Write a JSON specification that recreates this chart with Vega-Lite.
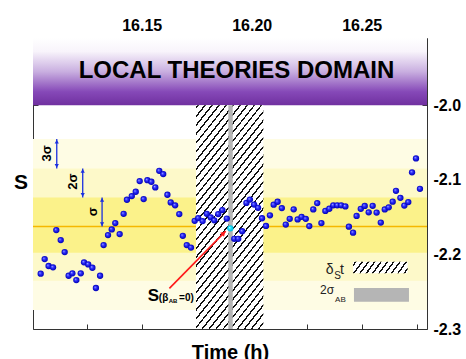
{
  "$schema": "https://vega.github.io/schema/vega-lite/v6.json",
  "width": 394,
  "height": 291,
  "autosize": {"type": "none"},
  "padding": {"left": 33, "top": 38, "right": 39, "bottom": 30},
  "background": "white",
  "config": {
    "font": "Liberation Sans",
    "view": {"stroke": "#333", "strokeWidth": 1},
    "axis": {"grid": false, "domain": false, "tickColor": "#333", "labelColor": "#000", "titleColor": "#000", "labelFlush": false, "labelOverlap": false}
  },
  "resolve": {"axis": {"x": "independent", "y": "independent"}},
  "layer": [
    {
      "data": {"values": [
        {"band": "3s", "lo": -2.2746, "hi": -2.0455},
        {"band": "2s", "lo": -2.2353, "hi": -2.0848},
        {"band": "1s", "lo": -2.1978, "hi": -2.1236}
      ]},
      "mark": {"type": "rect"},
      "encoding": {
        "y": {"field": "lo", "type": "quantitative", "scale": {"domain": [-2.3, -1.91], "nice": false, "zero": false}, "axis": null},
        "y2": {"field": "hi"},
        "color": {"field": "band", "type": "nominal", "scale": {"domain": ["3s", "2s", "1s"], "range": ["#fefce4", "#fdf9c9", "#fbf28a"]}, "legend": null}
      }
    },
    {
      "data": {"values": [{"lo": -2.0, "hi": -1.91}]},
      "mark": {"type": "rect", "fill": {"gradient": "linear", "x1": 0, "y1": 0, "x2": 0, "y2": 1, "stops": [
        {"offset": 0, "color": "#ffffff"},
        {"offset": 0.2, "color": "#f8f4fb"},
        {"offset": 0.5, "color": "#c9afe0"},
        {"offset": 0.8, "color": "#8649b8"},
        {"offset": 1, "color": "#7030a0"}
      ]}},
      "encoding": {
        "y": {"field": "lo", "type": "quantitative", "scale": {"domain": [-2.3, -1.91], "nice": false, "zero": false}, "axis": null},
        "y2": {"field": "hi"}
      }
    },
    {
      "data": {"values": [{"mean": -2.1627}]},
      "mark": {"type": "rule", "color": "#f5b800", "strokeWidth": 1.5},
      "encoding": {
        "y": {"field": "mean", "type": "quantitative", "scale": {"domain": [-2.3, -1.91], "nice": false, "zero": false}, "axis": null}
      }
    },
    {
      "data": {"values": [{"t0": 16.1747, "t1": 16.2053, "lo": -2.3, "hi": -2.0}]},
      "mark": {"type": "rect", "fill": {"gradient": "linear", "x1": 0, "y1": 0, "x2": 0.453, "y2": 1.2055, "stops": [
        {"offset": 0, "color": "#fff"},
        {"offset": 0.0050, "color": "#fff"}, {"offset": 0.0050, "color": "#111"}, {"offset": 0.0120, "color": "#111"}, {"offset": 0.0120, "color": "#fff"},
        {"offset": 0.0336, "color": "#fff"}, {"offset": 0.0336, "color": "#111"}, {"offset": 0.0406, "color": "#111"}, {"offset": 0.0406, "color": "#fff"},
        {"offset": 0.0621, "color": "#fff"}, {"offset": 0.0621, "color": "#111"}, {"offset": 0.0691, "color": "#111"}, {"offset": 0.0691, "color": "#fff"},
        {"offset": 0.0907, "color": "#fff"}, {"offset": 0.0907, "color": "#111"}, {"offset": 0.0977, "color": "#111"}, {"offset": 0.0977, "color": "#fff"},
        {"offset": 0.1193, "color": "#fff"}, {"offset": 0.1193, "color": "#111"}, {"offset": 0.1263, "color": "#111"}, {"offset": 0.1263, "color": "#fff"},
        {"offset": 0.1479, "color": "#fff"}, {"offset": 0.1479, "color": "#111"}, {"offset": 0.1549, "color": "#111"}, {"offset": 0.1549, "color": "#fff"},
        {"offset": 0.1764, "color": "#fff"}, {"offset": 0.1764, "color": "#111"}, {"offset": 0.1834, "color": "#111"}, {"offset": 0.1834, "color": "#fff"},
        {"offset": 0.2050, "color": "#fff"}, {"offset": 0.2050, "color": "#111"}, {"offset": 0.2120, "color": "#111"}, {"offset": 0.2120, "color": "#fff"},
        {"offset": 0.2336, "color": "#fff"}, {"offset": 0.2336, "color": "#111"}, {"offset": 0.2406, "color": "#111"}, {"offset": 0.2406, "color": "#fff"},
        {"offset": 0.2621, "color": "#fff"}, {"offset": 0.2621, "color": "#111"}, {"offset": 0.2691, "color": "#111"}, {"offset": 0.2691, "color": "#fff"},
        {"offset": 0.2907, "color": "#fff"}, {"offset": 0.2907, "color": "#111"}, {"offset": 0.2977, "color": "#111"}, {"offset": 0.2977, "color": "#fff"},
        {"offset": 0.3193, "color": "#fff"}, {"offset": 0.3193, "color": "#111"}, {"offset": 0.3263, "color": "#111"}, {"offset": 0.3263, "color": "#fff"},
        {"offset": 0.3479, "color": "#fff"}, {"offset": 0.3479, "color": "#111"}, {"offset": 0.3549, "color": "#111"}, {"offset": 0.3549, "color": "#fff"},
        {"offset": 0.3764, "color": "#fff"}, {"offset": 0.3764, "color": "#111"}, {"offset": 0.3834, "color": "#111"}, {"offset": 0.3834, "color": "#fff"},
        {"offset": 0.4050, "color": "#fff"}, {"offset": 0.4050, "color": "#111"}, {"offset": 0.4120, "color": "#111"}, {"offset": 0.4120, "color": "#fff"},
        {"offset": 0.4336, "color": "#fff"}, {"offset": 0.4336, "color": "#111"}, {"offset": 0.4406, "color": "#111"}, {"offset": 0.4406, "color": "#fff"},
        {"offset": 0.4621, "color": "#fff"}, {"offset": 0.4621, "color": "#111"}, {"offset": 0.4691, "color": "#111"}, {"offset": 0.4691, "color": "#fff"},
        {"offset": 0.4907, "color": "#fff"}, {"offset": 0.4907, "color": "#111"}, {"offset": 0.4977, "color": "#111"}, {"offset": 0.4977, "color": "#fff"},
        {"offset": 0.5193, "color": "#fff"}, {"offset": 0.5193, "color": "#111"}, {"offset": 0.5263, "color": "#111"}, {"offset": 0.5263, "color": "#fff"},
        {"offset": 0.5479, "color": "#fff"}, {"offset": 0.5479, "color": "#111"}, {"offset": 0.5549, "color": "#111"}, {"offset": 0.5549, "color": "#fff"},
        {"offset": 0.5764, "color": "#fff"}, {"offset": 0.5764, "color": "#111"}, {"offset": 0.5834, "color": "#111"}, {"offset": 0.5834, "color": "#fff"},
        {"offset": 0.6050, "color": "#fff"}, {"offset": 0.6050, "color": "#111"}, {"offset": 0.6120, "color": "#111"}, {"offset": 0.6120, "color": "#fff"},
        {"offset": 0.6336, "color": "#fff"}, {"offset": 0.6336, "color": "#111"}, {"offset": 0.6406, "color": "#111"}, {"offset": 0.6406, "color": "#fff"},
        {"offset": 0.6621, "color": "#fff"}, {"offset": 0.6621, "color": "#111"}, {"offset": 0.6691, "color": "#111"}, {"offset": 0.6691, "color": "#fff"},
        {"offset": 0.6907, "color": "#fff"}, {"offset": 0.6907, "color": "#111"}, {"offset": 0.6977, "color": "#111"}, {"offset": 0.6977, "color": "#fff"},
        {"offset": 0.7193, "color": "#fff"}, {"offset": 0.7193, "color": "#111"}, {"offset": 0.7263, "color": "#111"}, {"offset": 0.7263, "color": "#fff"},
        {"offset": 0.7479, "color": "#fff"}, {"offset": 0.7479, "color": "#111"}, {"offset": 0.7549, "color": "#111"}, {"offset": 0.7549, "color": "#fff"},
        {"offset": 0.7764, "color": "#fff"}, {"offset": 0.7764, "color": "#111"}, {"offset": 0.7834, "color": "#111"}, {"offset": 0.7834, "color": "#fff"},
        {"offset": 0.8050, "color": "#fff"}, {"offset": 0.8050, "color": "#111"}, {"offset": 0.8120, "color": "#111"}, {"offset": 0.8120, "color": "#fff"},
        {"offset": 0.8336, "color": "#fff"}, {"offset": 0.8336, "color": "#111"}, {"offset": 0.8406, "color": "#111"}, {"offset": 0.8406, "color": "#fff"},
        {"offset": 0.8621, "color": "#fff"}, {"offset": 0.8621, "color": "#111"}, {"offset": 0.8691, "color": "#111"}, {"offset": 0.8691, "color": "#fff"},
        {"offset": 0.8907, "color": "#fff"}, {"offset": 0.8907, "color": "#111"}, {"offset": 0.8977, "color": "#111"}, {"offset": 0.8977, "color": "#fff"},
        {"offset": 0.9193, "color": "#fff"}, {"offset": 0.9193, "color": "#111"}, {"offset": 0.9263, "color": "#111"}, {"offset": 0.9263, "color": "#fff"},
        {"offset": 0.9479, "color": "#fff"}, {"offset": 0.9479, "color": "#111"}, {"offset": 0.9549, "color": "#111"}, {"offset": 0.9549, "color": "#fff"},
        {"offset": 0.9764, "color": "#fff"}, {"offset": 0.9764, "color": "#111"}, {"offset": 0.9834, "color": "#111"}, {"offset": 0.9834, "color": "#fff"},
        {"offset": 1, "color": "#fff"}
      ]}},
      "encoding": {
        "x": {"field": "t0", "type": "quantitative", "scale": {"domain": [16.1006, 16.2797], "nice": false, "zero": false},
              "axis": {"orient": "bottom", "values": [16.125, 16.15, 16.175, 16.2, 16.225, 16.25, 16.275], "labels": false, "tickSize": -5, "title": "Time (h)", "titleFontSize": 20, "titleFontWeight": "bold", "titlePadding": 13}},
        "x2": {"field": "t1"},
        "y": {"field": "lo", "type": "quantitative", "scale": {"domain": [-2.3, -1.91], "nice": false, "zero": false},
              "axis": {"orient": "left", "values": [-2.3, -2.25, -2.2, -2.15, -2.1, -2.05, -2.0, -1.95], "labels": false, "tickSize": -5, "title": "S", "titleAngle": 0, "titleFontSize": 21, "titleFontWeight": "bold", "titleAlign": "center", "titleBaseline": "middle", "titleX": -12.5, "titleY": 144}},
        "y2": {"field": "hi"}
      }
    },
    {
      "data": {"values": [{"t0": 16.1894, "t1": 16.1914, "lo": -2.3, "hi": -2.0}]},
      "mark": {"type": "rect", "fill": "#b5b5b5"},
      "encoding": {
        "x": {"field": "t0", "type": "quantitative", "scale": {"domain": [16.1006, 16.2797], "nice": false, "zero": false}, "axis": null},
        "x2": {"field": "t1"},
        "y": {"field": "lo", "type": "quantitative", "scale": {"domain": [-2.3, -1.91], "nice": false, "zero": false}, "axis": null},
        "y2": {"field": "hi"}
      }
    },
    {
      "data": {"values": [
        {"t": 16.1041, "s": -2.2259}, {"t": 16.1059, "s": -2.2063}, {"t": 16.1077, "s": -2.2156}, {"t": 16.1097, "s": -2.2174},
        {"t": 16.1112, "s": -2.1674}, {"t": 16.1132, "s": -2.1808}, {"t": 16.1150, "s": -2.1969}, {"t": 16.1168, "s": -2.2286},
        {"t": 16.1185, "s": -2.2254}, {"t": 16.1203, "s": -2.2344}, {"t": 16.1223, "s": -2.2254}, {"t": 16.1238, "s": -2.2107},
        {"t": 16.1257, "s": -2.2134}, {"t": 16.1276, "s": -2.2179}, {"t": 16.1292, "s": -2.2451}, {"t": 16.1311, "s": -2.2286},
        {"t": 16.1327, "s": -2.1875}, {"t": 16.1347, "s": -2.1741}, {"t": 16.1364, "s": -2.1665}, {"t": 16.1380, "s": -2.1580},
        {"t": 16.1400, "s": -2.1728}, {"t": 16.1418, "s": -2.1456}, {"t": 16.1433, "s": -2.1268}, {"t": 16.1455, "s": -2.1219},
        {"t": 16.1473, "s": -2.1161}, {"t": 16.1491, "s": -2.1018}, {"t": 16.1509, "s": -2.1259}, {"t": 16.1526, "s": -2.1005},
        {"t": 16.1544, "s": -2.1027}, {"t": 16.1562, "s": -2.1102}, {"t": 16.1580, "s": -2.0880}, {"t": 16.1598, "s": -2.0924},
        {"t": 16.1617, "s": -2.1201}, {"t": 16.1632, "s": -2.1303}, {"t": 16.1652, "s": -2.1343}, {"t": 16.1671, "s": -2.1460},
        {"t": 16.1687, "s": -2.1751}, {"t": 16.1705, "s": -2.1875}, {"t": 16.1724, "s": -2.1909}, {"t": 16.1741, "s": -2.1550},
        {"t": 16.1757, "s": -2.1513}, {"t": 16.1777, "s": -2.1554}, {"t": 16.1796, "s": -2.1456}, {"t": 16.1814, "s": -2.1504},
        {"t": 16.1830, "s": -2.1544}, {"t": 16.1848, "s": -2.1460}, {"t": 16.1867, "s": -2.1406}, {"t": 16.1887, "s": -2.1520},
        {"t": 16.1921, "s": -2.1791}, {"t": 16.1939, "s": -2.1791}, {"t": 16.1957, "s": -2.1690}, {"t": 16.1976, "s": -2.1310},
        {"t": 16.1992, "s": -2.1266}, {"t": 16.2011, "s": -2.1333}, {"t": 16.2029, "s": -2.1376}, {"t": 16.2047, "s": -2.1516},
        {"t": 16.2065, "s": -2.1619}, {"t": 16.2083, "s": -2.1477}, {"t": 16.2100, "s": -2.1334}, {"t": 16.2118, "s": -2.1295},
        {"t": 16.2137, "s": -2.1380}, {"t": 16.2155, "s": -2.1600}, {"t": 16.2173, "s": -2.1523}, {"t": 16.2191, "s": -2.1396},
        {"t": 16.2209, "s": -2.1531}, {"t": 16.2227, "s": -2.1497}, {"t": 16.2246, "s": -2.1524}, {"t": 16.2262, "s": -2.1621},
        {"t": 16.2280, "s": -2.1397}, {"t": 16.2298, "s": -2.1313}, {"t": 16.2317, "s": -2.1580}, {"t": 16.2335, "s": -2.1417},
        {"t": 16.2353, "s": -2.1388}, {"t": 16.2371, "s": -2.1342}, {"t": 16.2389, "s": -2.1342}, {"t": 16.2407, "s": -2.1342},
        {"t": 16.2426, "s": -2.1357}, {"t": 16.2442, "s": -2.1629}, {"t": 16.2461, "s": -2.1709}, {"t": 16.2477, "s": -2.1484},
        {"t": 16.2496, "s": -2.1389}, {"t": 16.2514, "s": -2.1350}, {"t": 16.2532, "s": -2.1436}, {"t": 16.2550, "s": -2.1349},
        {"t": 16.2568, "s": -2.1440}, {"t": 16.2587, "s": -2.1574}, {"t": 16.2605, "s": -2.1397}, {"t": 16.2623, "s": -2.1369},
        {"t": 16.2641, "s": -2.1293}, {"t": 16.2656, "s": -2.1148}, {"t": 16.2676, "s": -2.1242}, {"t": 16.2694, "s": -2.1346},
        {"t": 16.2712, "s": -2.1299}, {"t": 16.2729, "s": -2.0900}, {"t": 16.2747, "s": -2.0714}, {"t": 16.2765, "s": -2.1121}
      ]},
      "mark": {"type": "point", "filled": true, "opacity": 1, "size": 40, "strokeWidth": 0,
        "fill": {"gradient": "radial", "x1": 0.35, "y1": 0.35, "r1": 0, "x2": 0.5, "y2": 0.5, "r2": 0.5, "stops": [
          {"offset": 0, "color": "#a9b0ff"}, {"offset": 0.4, "color": "#2f2fff"}, {"offset": 1, "color": "#0000b4"}
        ]}},
      "encoding": {
        "x": {"field": "t", "type": "quantitative", "scale": {"domain": [16.1006, 16.2797], "nice": false, "zero": false},
              "axis": {"orient": "top", "values": [16.125, 16.15, 16.175, 16.2, 16.225, 16.25, 16.275], "tickSize": -5, "title": null,
                       "labelExpr": "(round(datum.value * 1000) % 50 == 0) ? format(datum.value, '.2f') : ''",
                       "labelFontSize": 16, "labelFontWeight": "bold", "labelPadding": 9.5}},
        "y": {"field": "s", "type": "quantitative", "scale": {"domain": [-2.3, -1.91], "nice": false, "zero": false},
              "axis": {"orient": "right", "values": [-2.3, -2.25, -2.2, -2.15, -2.1, -2.05, -2.0, -1.95], "tickSize": -5, "title": null,
                       "labelExpr": "(round(datum.value * 100) % 10 == 0) ? ('-' + format(abs(datum.value), '.1f')) : ''",
                       "labelFontSize": 16, "labelFontWeight": "bold", "labelPadding": 11}}
      }
    },
    {
      "data": {"values": [{"t": 16.1903, "s": -2.1651}]},
      "mark": {"type": "point", "filled": true, "opacity": 1, "size": 40, "strokeWidth": 0,
        "fill": {"gradient": "radial", "x1": 0.35, "y1": 0.35, "r1": 0, "x2": 0.5, "y2": 0.5, "r2": 0.5, "stops": [
          {"offset": 0, "color": "#b8ffff"}, {"offset": 0.4, "color": "#22e6ff"}, {"offset": 1, "color": "#00b8d8"}
        ]}},
      "encoding": {
        "x": {"field": "t", "type": "quantitative", "scale": {"domain": [16.1006, 16.2797], "nice": false, "zero": false}, "axis": null},
        "y": {"field": "s", "type": "quantitative", "scale": {"domain": [-2.3, -1.91], "nice": false, "zero": false}, "axis": null}
      }
    },
    {
      "data": {"values": [
        {"t": 16.1114, "top": -2.0455, "bot": -2.0848},
        {"t": 16.1232, "top": -2.0848, "bot": -2.1236},
        {"t": 16.1320, "top": -2.1236, "bot": -2.1627}
      ]},
      "layer": [
        {"mark": {"type": "rule", "color": "#1a2fe0", "strokeWidth": 1.3},
         "encoding": {
           "x": {"field": "t", "type": "quantitative", "scale": {"domain": [16.1006, 16.2797], "nice": false, "zero": false}, "axis": null},
           "y": {"field": "top", "type": "quantitative", "scale": {"domain": [-2.3, -1.91], "nice": false, "zero": false}, "axis": null},
           "y2": {"field": "bot"}}},
        {"mark": {"type": "point", "shape": "triangle-up", "filled": true, "opacity": 1, "size": 18, "color": "#1a2fe0", "yOffset": 2.5},
         "encoding": {
           "x": {"field": "t", "type": "quantitative", "scale": {"domain": [16.1006, 16.2797], "nice": false, "zero": false}, "axis": null},
           "y": {"field": "top", "type": "quantitative", "scale": {"domain": [-2.3, -1.91], "nice": false, "zero": false}, "axis": null}}},
        {"mark": {"type": "point", "shape": "triangle-down", "filled": true, "opacity": 1, "size": 18, "color": "#1a2fe0", "yOffset": -2.5},
         "encoding": {
           "x": {"field": "t", "type": "quantitative", "scale": {"domain": [16.1006, 16.2797], "nice": false, "zero": false}, "axis": null},
           "y": {"field": "bot", "type": "quantitative", "scale": {"domain": [-2.3, -1.91], "nice": false, "zero": false}, "axis": null}}}
      ]
    },
    {
      "data": {"values": [
        {"label": "3σ", "t": 16.1071, "s": -2.0647},
        {"label": "2σ", "t": 16.1189, "s": -2.1027},
        {"label": "σ", "t": 16.1280, "s": -2.1429}
      ]},
      "mark": {"type": "text", "angle": 270, "align": "center", "baseline": "middle", "fontSize": 13, "fontWeight": "bold", "color": "#000"},
      "encoding": {
        "x": {"field": "t", "type": "quantitative", "scale": {"domain": [16.1006, 16.2797], "nice": false, "zero": false}, "axis": null},
        "y": {"field": "s", "type": "quantitative", "scale": {"domain": [-2.3, -1.91], "nice": false, "zero": false}, "axis": null},
        "text": {"field": "label"}
      }
    },
    {
      "data": {"values": [{"t": 16.1626, "s": -2.2455, "t2": 16.1882, "s2": -2.1688}]},
      "layer": [
        {"mark": {"type": "rule", "color": "#ff1a1a", "strokeWidth": 1.6},
         "encoding": {
           "x": {"field": "t", "type": "quantitative", "scale": {"domain": [16.1006, 16.2797], "nice": false, "zero": false}, "axis": null},
           "y": {"field": "s", "type": "quantitative", "scale": {"domain": [-2.3, -1.91], "nice": false, "zero": false}, "axis": null},
           "x2": {"field": "t2"},
           "y2": {"field": "s2"}}},
        {"mark": {"type": "point", "shape": "triangle-up", "angle": 45, "filled": true, "opacity": 1, "size": 30, "color": "#ff1a1a", "xOffset": -2, "yOffset": 2},
         "encoding": {
           "x": {"field": "t2", "type": "quantitative", "scale": {"domain": [16.1006, 16.2797], "nice": false, "zero": false}, "axis": null},
           "y": {"field": "s2", "type": "quantitative", "scale": {"domain": [-2.3, -1.91], "nice": false, "zero": false}, "axis": null}}}
      ]
    },
    {
      "data": {"values": [{"t0": 16.2461, "t1": 16.2709, "lo": -2.2254, "hi": -2.2099}]},
      "mark": {"type": "rect", "fill": {"gradient": "linear", "x1": 0, "y1": 0, "x2": 1.129, "y2": 0.176, "stops": [
        {"offset": 0, "color": "#fff"},
        {"offset": 0.03, "color": "#fff"}, {"offset": 0.03, "color": "#111"}, {"offset": 0.058, "color": "#111"}, {"offset": 0.058, "color": "#fff"},
        {"offset": 0.13, "color": "#fff"}, {"offset": 0.13, "color": "#111"}, {"offset": 0.158, "color": "#111"}, {"offset": 0.158, "color": "#fff"},
        {"offset": 0.23, "color": "#fff"}, {"offset": 0.23, "color": "#111"}, {"offset": 0.258, "color": "#111"}, {"offset": 0.258, "color": "#fff"},
        {"offset": 0.33, "color": "#fff"}, {"offset": 0.33, "color": "#111"}, {"offset": 0.358, "color": "#111"}, {"offset": 0.358, "color": "#fff"},
        {"offset": 0.43, "color": "#fff"}, {"offset": 0.43, "color": "#111"}, {"offset": 0.458, "color": "#111"}, {"offset": 0.458, "color": "#fff"},
        {"offset": 0.53, "color": "#fff"}, {"offset": 0.53, "color": "#111"}, {"offset": 0.558, "color": "#111"}, {"offset": 0.558, "color": "#fff"},
        {"offset": 0.63, "color": "#fff"}, {"offset": 0.63, "color": "#111"}, {"offset": 0.658, "color": "#111"}, {"offset": 0.658, "color": "#fff"},
        {"offset": 0.73, "color": "#fff"}, {"offset": 0.73, "color": "#111"}, {"offset": 0.758, "color": "#111"}, {"offset": 0.758, "color": "#fff"},
        {"offset": 0.83, "color": "#fff"}, {"offset": 0.83, "color": "#111"}, {"offset": 0.858, "color": "#111"}, {"offset": 0.858, "color": "#fff"},
        {"offset": 0.93, "color": "#fff"}, {"offset": 0.93, "color": "#111"}, {"offset": 0.958, "color": "#111"}, {"offset": 0.958, "color": "#fff"},
        {"offset": 1, "color": "#fff"}
      ]}},
      "encoding": {
        "x": {"field": "t0", "type": "quantitative", "scale": {"domain": [16.1006, 16.2797], "nice": false, "zero": false}, "axis": null},
        "x2": {"field": "t1"},
        "y": {"field": "lo", "type": "quantitative", "scale": {"domain": [-2.3, -1.91], "nice": false, "zero": false}, "axis": null},
        "y2": {"field": "hi"}
      }
    },
    {
      "data": {"values": [{"t0": 16.2465, "t1": 16.2715, "lo": -2.2634, "hi": -2.2451}]},
      "mark": {"type": "rect", "fill": "#b5b5b5"},
      "encoding": {
        "x": {"field": "t0", "type": "quantitative", "scale": {"domain": [16.1006, 16.2797], "nice": false, "zero": false}, "axis": null},
        "x2": {"field": "t1"},
        "y": {"field": "lo", "type": "quantitative", "scale": {"domain": [-2.3, -1.91], "nice": false, "zero": false}, "axis": null},
        "y2": {"field": "hi"}
      }
    },
    {
      "data": {"values": [{"label": "LOCAL THEORIES DOMAIN", "t": 16.1931, "s": -1.9545}]},
      "mark": {"type": "text", "align": "center", "baseline": "middle", "fontSize": 24, "fontWeight": "bold", "color": "#000"},
      "encoding": {
        "x": {"field": "t", "type": "quantitative", "scale": {"domain": [16.1006, 16.2797], "nice": false, "zero": false}, "axis": null},
        "y": {"field": "s", "type": "quantitative", "scale": {"domain": [-2.3, -1.91], "nice": false, "zero": false}, "axis": null},
        "text": {"field": "label"}
      }
    },
    {
      "data": {"values": [{"label": "S", "t": 16.1528, "s": -2.2621}]},
      "mark": {"type": "text", "align": "left", "baseline": "alphabetic", "fontSize": 17, "fontWeight": "bold", "color": "#000"},
      "encoding": {
        "x": {"field": "t", "type": "quantitative", "scale": {"domain": [16.1006, 16.2797], "nice": false, "zero": false}, "axis": null},
        "y": {"field": "s", "type": "quantitative", "scale": {"domain": [-2.3, -1.91], "nice": false, "zero": false}, "axis": null},
        "text": {"field": "label"}
      }
    },
    {
      "data": {"values": [{"label": "(β", "t": 16.1578, "s": -2.2625}, {"label": "=0)", "t": 16.1670, "s": -2.2625}]},
      "mark": {"type": "text", "align": "left", "baseline": "alphabetic", "fontSize": 10, "fontWeight": "bold", "color": "#000"},
      "encoding": {
        "x": {"field": "t", "type": "quantitative", "scale": {"domain": [16.1006, 16.2797], "nice": false, "zero": false}, "axis": null},
        "y": {"field": "s", "type": "quantitative", "scale": {"domain": [-2.3, -1.91], "nice": false, "zero": false}, "axis": null},
        "text": {"field": "label"}
      }
    },
    {
      "data": {"values": [{"label": "AB", "t": 16.1623, "s": -2.2652}]},
      "mark": {"type": "text", "align": "left", "baseline": "alphabetic", "fontSize": 6, "fontWeight": "bold", "color": "#000"},
      "encoding": {
        "x": {"field": "t", "type": "quantitative", "scale": {"domain": [16.1006, 16.2797], "nice": false, "zero": false}, "axis": null},
        "y": {"field": "s", "type": "quantitative", "scale": {"domain": [-2.3, -1.91], "nice": false, "zero": false}, "axis": null},
        "text": {"field": "label"}
      }
    },
    {
      "data": {"values": [{"label": "δ", "t": 16.2337, "s": -2.2257}, {"label": "t", "t": 16.2402, "s": -2.2257}]},
      "mark": {"type": "text", "align": "left", "baseline": "alphabetic", "fontSize": 14, "color": "#222"},
      "encoding": {
        "x": {"field": "t", "type": "quantitative", "scale": {"domain": [16.1006, 16.2797], "nice": false, "zero": false}, "axis": null},
        "y": {"field": "s", "type": "quantitative", "scale": {"domain": [-2.3, -1.91], "nice": false, "zero": false}, "axis": null},
        "text": {"field": "label"}
      }
    },
    {
      "data": {"values": [{"label": "S", "t": 16.2375, "s": -2.2330}]},
      "mark": {"type": "text", "align": "left", "baseline": "alphabetic", "fontSize": 10, "color": "#222"},
      "encoding": {
        "x": {"field": "t", "type": "quantitative", "scale": {"domain": [16.1006, 16.2797], "nice": false, "zero": false}, "axis": null},
        "y": {"field": "s", "type": "quantitative", "scale": {"domain": [-2.3, -1.91], "nice": false, "zero": false}, "axis": null},
        "text": {"field": "label"}
      }
    },
    {
      "data": {"values": [{"label": "2σ", "t": 16.2311, "s": -2.2531}]},
      "mark": {"type": "text", "align": "left", "baseline": "alphabetic", "fontSize": 12, "color": "#222"},
      "encoding": {
        "x": {"field": "t", "type": "quantitative", "scale": {"domain": [16.1006, 16.2797], "nice": false, "zero": false}, "axis": null},
        "y": {"field": "s", "type": "quantitative", "scale": {"domain": [-2.3, -1.91], "nice": false, "zero": false}, "axis": null},
        "text": {"field": "label"}
      }
    },
    {
      "data": {"values": [{"label": "AB", "t": 16.2379, "s": -2.2632}]},
      "mark": {"type": "text", "align": "left", "baseline": "alphabetic", "fontSize": 8, "color": "#222"},
      "encoding": {
        "x": {"field": "t", "type": "quantitative", "scale": {"domain": [16.1006, 16.2797], "nice": false, "zero": false}, "axis": null},
        "y": {"field": "s", "type": "quantitative", "scale": {"domain": [-2.3, -1.91], "nice": false, "zero": false}, "axis": null},
        "text": {"field": "label"}
      }
    }
  ]
}
